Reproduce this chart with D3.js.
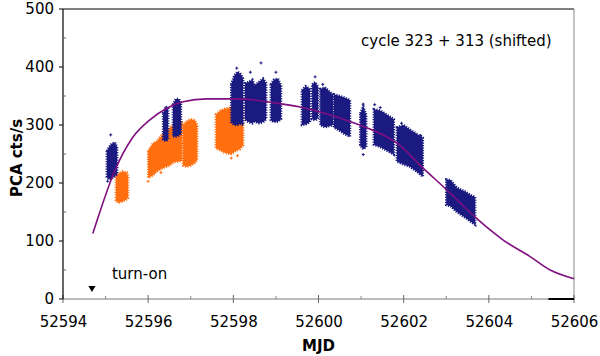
<!DOCTYPE html>
<html>
<head>
<meta charset="utf-8">
<script src="https://cdn.jsdelivr.net/npm/d3@7"></script>
<style>
  body { margin: 0; background: #fff; }
  svg { display: block; font-family: "DejaVu Sans", Verdana, sans-serif; }
</style>
</head>
<body>
<div id="chart"></div>
<script>
// tick values
var xTicks = [52594, 52596, 52598, 52600, 52602, 52604, 52606]
var xMinor = [52595, 52597, 52599, 52601, 52603, 52605]
var yTicks = [0, 100, 200, 300, 400, 500]
var yMinor = [50, 150, 250, 350, 450]

// model light curve [MJD, cts/s]
var modelCurve = [
  [52594.70, 113], [52594.82, 140], [52595.22, 222], [52595.64, 279],
  [52596.04, 309], [52596.44, 329], [52596.82, 340], [52597.38, 345],
  [52597.99, 345], [52598.50, 343], [52598.79, 340], [52599.57, 331],
  [52600.74, 306], [52601.28, 291], [52601.84, 269], [52602.45, 226],
  [52602.97, 191], [52603.68, 141], [52604.03, 119], [52604.33, 102],
  [52604.97, 73], [52605.44, 50], [52606.00, 35]
]

// observation runs, cycle 323: [MJD, low, high] envelope of the dense points
var blueRuns = [
  [[52595.03, 210, 255], [52595.08, 206, 262], [52595.15, 208, 268], [52595.22, 212, 270], [52595.27, 215, 262]],
  [[52596.35, 275, 320], [52596.41, 272, 332], [52596.47, 275, 328]],
  [[52596.58, 280, 335], [52596.65, 280, 345], [52596.72, 282, 345], [52596.77, 285, 338]],
  [[52597.95, 305, 370], [52598.02, 300, 385], [52598.10, 300, 392], [52598.17, 302, 388], [52598.23, 300, 380]],
  [[52598.27, 310, 372], [52598.35, 305, 374], [52598.45, 303, 378], [52598.50, 306, 368], [52598.60, 303, 374], [52598.70, 305, 380], [52598.77, 310, 372]],
  [[52598.88, 308, 370], [52598.95, 305, 378], [52599.05, 306, 380], [52599.12, 310, 368]],
  [[52599.61, 300, 360], [52599.70, 301, 367], [52599.80, 305, 362]],
  [[52599.85, 310, 370], [52599.92, 308, 374], [52599.99, 312, 366]],
  [[52600.04, 300, 362], [52600.15, 296, 365], [52600.25, 298, 358], [52600.34, 300, 352]],
  [[52600.36, 296, 353], [52600.50, 290, 350], [52600.62, 284, 347], [52600.74, 280, 343]],
  [[52600.98, 265, 320], [52601.05, 258, 332], [52601.12, 262, 318]],
  [[52601.30, 266, 327], [52601.45, 262, 325], [52601.60, 256, 318], [52601.77, 249, 310]],
  [[52601.84, 237, 296], [52602.00, 232, 300], [52602.15, 228, 292], [52602.30, 220, 285], [52602.45, 211, 278]],
  [[52603.00, 162, 206], [52603.10, 160, 205], [52603.25, 150, 192], [52603.45, 140, 185], [52603.60, 132, 178], [52603.68, 128, 176]]
]

// observation runs, cycle 313 (shifted)
var orangeRuns = [
  [[52595.24, 170, 212], [52595.30, 166, 216], [52595.40, 168, 220], [52595.50, 172, 218], [52595.53, 175, 210]],
  [[52596.00, 209, 255], [52596.11, 213, 268], [52596.20, 220, 272], [52596.35, 226, 285], [52596.50, 230, 295], [52596.60, 236, 300], [52596.79, 238, 304]],
  [[52596.82, 230, 300], [52596.90, 228, 306], [52597.00, 230, 310], [52597.10, 235, 308], [52597.15, 240, 300]],
  [[52597.59, 260, 318], [52597.70, 256, 325], [52597.80, 252, 328], [52597.95, 250, 330], [52598.05, 255, 335], [52598.15, 258, 338], [52598.23, 265, 330]]
]

// isolated points outside the dense bands
var blueOutliers = [
  [52595.12, 283], [52595.05, 203], [52598.08, 398], [52598.40, 391], [52598.65, 407],
  [52599.00, 391], [52599.92, 383], [52600.10, 370], [52601.05, 249], [52601.05, 336],
  [52601.32, 335], [52601.45, 330], [52601.95, 303], [52602.40, 282]
]
var orangeOutliers = [[52597.95, 243], [52596.00, 203], [52598.10, 247], [52596.30, 218]]

var turnOn = [52594.68, 19]

var W = 600, H = 356
var margin = { left: 63, right: 26, top: 9, bottom: 57 }
var font = '"DejaVu Sans", Verdana, sans-serif'

var svg = d3.select('#chart').append('svg')
  .attr('width', W)
  .attr('height', H)

var x = d3.scaleLinear().domain([52594, 52606]).range([margin.left, W - margin.right])
var y = d3.scaleLinear().domain([0, 500]).range([H - margin.bottom, margin.top])

var x0 = x.range()[0], x1 = x.range()[1]
var y0 = y.range()[0], y1 = y.range()[1]

/** frame */
svg.append('line').attr('x1', x0).attr('x2', x1).attr('y1', y1).attr('y2', y1)
  .attr('stroke', '#000').attr('stroke-width', 1.2)
svg.append('line').attr('x1', x1).attr('x2', x1).attr('y1', y1).attr('y2', y0)
  .attr('stroke', '#888').attr('stroke-width', 1)

/** x axis */
svg.append('line').attr('x1', x0).attr('x2', x1).attr('y1', y0).attr('y2', y0)
  .attr('stroke', '#777').attr('stroke-width', 1)
svg.selectAll('.xmaj').data(xTicks).enter().append('line')
  .attr('x1', d => x(d)).attr('x2', d => x(d))
  .attr('y1', y0 - 4).attr('y2', y0 + 4)
  .attr('stroke', '#666')
svg.selectAll('.xmin').data(xMinor).enter().append('line')
  .attr('x1', d => x(d)).attr('x2', d => x(d))
  .attr('y1', y0 - 3).attr('y2', y0)
  .attr('stroke', '#888')
svg.append('line')
  .attr('x1', x(52605.4)).attr('x2', x1).attr('y1', y0).attr('y2', y0)
  .attr('stroke', '#000').attr('stroke-width', 2)

var xAxis = svg.append('g')
  .attr('transform', 'translate(0,' + y0 + ')')
  .call(d3.axisBottom(x).tickValues(xTicks).tickFormat(d3.format('d')).tickSize(0).tickPadding(17))
xAxis.select('.domain').remove()
xAxis.selectAll('text').attr('font-size', 15).attr('fill', '#000').attr('font-family', font)

/** y axis */
svg.append('line').attr('x1', x0).attr('x2', x0).attr('y1', y1).attr('y2', y0)
  .attr('stroke', '#000').attr('stroke-width', 1.2)
svg.selectAll('.ymaj').data(yTicks).enter().append('line')
  .attr('x1', x0 - 4).attr('x2', x0)
  .attr('y1', d => y(d)).attr('y2', d => y(d))
  .attr('stroke', '#000')
svg.selectAll('.ymin').data(yMinor).enter().append('line')
  .attr('x1', x0).attr('x2', x0 + 3)
  .attr('y1', d => y(d)).attr('y2', d => y(d))
  .attr('stroke', '#666')

var yAxis = svg.append('g')
  .attr('transform', 'translate(' + x0 + ',0)')
  .call(d3.axisLeft(y).tickValues(yTicks).tickSize(0).tickPadding(9))
yAxis.select('.domain').remove()
yAxis.selectAll('text').attr('font-size', 15).attr('fill', '#000').attr('font-family', font)

/** axis titles */
svg.append('text')
  .attr('x', (x0 + x1) / 2).attr('y', 351)
  .attr('text-anchor', 'middle')
  .attr('font-size', 15).attr('font-weight', 'bold')
  .text('MJD')
svg.append('text')
  .attr('transform', 'translate(22,' + ((y0 + y1) / 2 + 4) + ') rotate(-90)')
  .attr('text-anchor', 'middle')
  .attr('font-size', 15).attr('font-weight', 'bold')
  .text('PCA cts/s')

/** data bands */
var band = d3.area()
  .x(d => x(d[0]))
  .y0(d => y(d[1]))
  .y1(d => y(d[2]))

var orange = '#ff6f10', blue = '#1a1a80'

function drawRuns(runs, color) {
  svg.append('g').selectAll('path').data(runs).enter().append('path')
    .attr('d', band)
    .attr('fill', color)
    .attr('stroke', color).attr('stroke-width', 2.5)
    .attr('stroke-dasharray', '1.2 1.3')
}
drawRuns(orangeRuns, orange)
drawRuns(blueRuns, blue)

function plus(sel, color) {
  sel.append('path')
    .attr('d', d => 'M' + (x(d[0]) - 1.5) + ',' + y(d[1]) + 'h3M' + x(d[0]) + ',' + (y(d[1]) - 1.5) + 'v3')
    .attr('stroke', color).attr('stroke-width', 1)
}
svg.append('g').selectAll('g').data(blueOutliers).enter().call(plus, blue)
svg.append('g').selectAll('g').data(orangeOutliers).enter().call(plus, orange)

/** model curve */
svg.append('path')
  .datum(modelCurve)
  .attr('d', d3.line().x(d => x(d[0])).y(d => y(d[1])).curve(d3.curveMonotoneX))
  .attr('fill', 'none')
  .attr('stroke', '#800f80')
  .attr('stroke-width', 1.6)

/** turn-on marker */
svg.append('path')
  .attr('transform', 'translate(' + x(turnOn[0]) + ',' + y(turnOn[1]) + ') rotate(180)')
  .attr('d', d3.symbol().type(d3.symbolTriangle).size(22))
  .attr('fill', '#000')
svg.append('text')
  .attr('x', x(52595.15)).attr('y', y(34))
  .attr('font-size', 15)
  .text('turn-on')

svg.append('text')
  .attr('x', x(52601.0)).attr('y', y(436))
  .attr('font-size', 15)
  .text('cycle 323 + 313 (shifted)')
</script>
</body>
</html>
